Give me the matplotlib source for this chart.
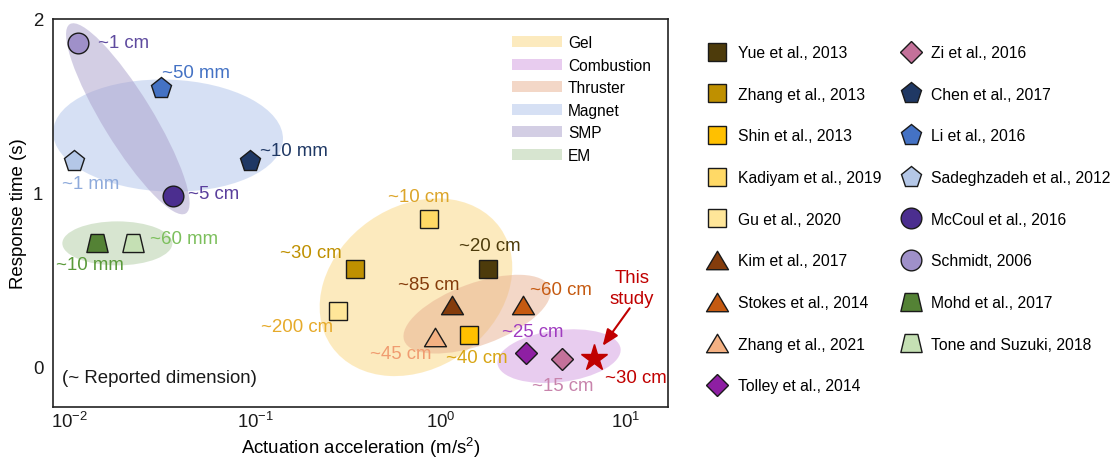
import numpy as np
import matplotlib
matplotlib.use("Agg")
import matplotlib.pyplot as plt
from matplotlib.patches import Ellipse, Patch
from matplotlib.lines import Line2D
from matplotlib.path import Path
from matplotlib.transforms import Affine2D, ScaledTranslation
from matplotlib.ticker import NullLocator, FixedLocator

plt.rcParams['font.family'] = ['Liberation Sans', 'DejaVu Sans']
plt.rcParams['mathtext.fontset'] = 'custom'
plt.rcParams['mathtext.rm'] = 'Liberation Sans'
plt.rcParams['mathtext.it'] = 'Liberation Sans:italic'
plt.rcParams['mathtext.default'] = 'regular'

# ---- data -------------------------------------------------------------
studies = ["Yue et al., 2013", "Zhang et al., 2013", "Shin et al., 2013",
           "Kadiyam et al., 2019", "Gu et al., 2020", "Kim et al., 2017",
           "Stokes et al., 2014", "Zhang et al., 2021", "Tolley et al., 2014",
           "Zi et al., 2016", "Chen et al., 2017", "Li et al., 2016",
           "Sadeghzadeh et al., 2012", "McCoul et al., 2016", "Schmidt, 2006",
           "Mohd et al., 2017", "Tone and Suzuki, 2018"]
accel = [1.8, 0.345, 1.42, 0.87, 0.28, 1.15, 2.8, 0.93, 2.9,
         4.5, 0.093, 0.031, 0.0105, 0.036, 0.011, 0.014, 0.022]      # m/s^2
resp_time = [0.56, 0.56, 0.18, 0.85, 0.32, 0.35, 0.35, 0.17, 0.075,
             0.04, 1.18, 1.60, 1.18, 0.98, 1.86, 0.71, 0.71]         # s
dimension = ["~20 cm", "~30 cm", "~40 cm", "~10 cm", "~200 cm", "~85 cm",
             "~60 cm", "~45 cm", "~25 cm", "~15 cm", "~10 mm", "~50 mm",
             "~1 mm", "~5 cm", "~1 cm", "~10 mm", "~60 mm"]

this_accel = 6.7
this_time = 0.045
this_dim = "~30 cm"

categories = ["Gel", "Combustion", "Thruster", "Magnet", "SMP", "EM"]

# ---- styles -----------------------------------------------------------
def closed(verts):
    verts = list(verts) + [verts[0]]
    return Path(verts, closed=True)

TRI = closed([(-1, -0.84), (1, -0.84), (0, 0.84)])
TRAP = closed([(-1, -0.85), (1, -0.85), (0.6, 0.85), (-0.6, 0.85)])

shape = {"s": ("s", 13), "t": (TRI, 15.8), "d": ("D", 11.7),
         "p": ("p", 15.7), "o": ("o", 14.9), "z": (TRAP, 15.3)}

# marker kind, face colour, label colour, label offset (px)
style = {
    "Yue et al., 2013":        ("s", "#4d3b0b", "#4d3b0b", (-29, 23)),
    "Zhang et al., 2013":      ("s", "#bf9000", "#bf9000", (-75, 16)),
    "Shin et al., 2013":       ("s", "#ffc000", "#d8a514", (-23, -23)),
    "Kadiyam et al., 2019":    ("s", "#ffd966", "#dca52a", (-41, 22)),
    "Gu et al., 2020":         ("s", "#ffe699", "#e6aa2a", (-77, -16)),
    "Kim et al., 2017":        ("t", "#843c0c", "#843c0c", (-54, 21)),
    "Stokes et al., 2014":     ("t", "#c55a11", "#c55a11", (7, 16)),
    "Zhang et al., 2021":      ("t", "#f4b183", "#f09c70", (-65, -17)),
    "Tolley et al., 2014":     ("d", "#8e1fa3", "#a03cc0", (-24, 22)),
    "Zi et al., 2016":         ("d", "#c4719a", "#c884ac", (-30, -26)),
    "Chen et al., 2017":       ("p", "#1f3864", "#1f3864", (10, 11)),
    "Li et al., 2016":         ("p", "#4472c4", "#4472c4", (1, 16)),
    "Sadeghzadeh et al., 2012": ("p", "#b4c7e7", "#8eaadb", (-12, -22)),
    "McCoul et al., 2016":     ("o", "#4b2e8f", "#5a3f9c", (15, 2)),
    "Schmidt, 2006":           ("o", "#9f90c9", "#5f4b9f", (20, 1)),
    "Mohd et al., 2017":       ("z", "#548235", "#5a9a3a", (-41, -22)),
    "Tone and Suzuki, 2018":   ("z", "#c5e0b4", "#7cbf5c", (17, 4)),
}

cat_colors = {"Gel": "#fbd67f", "Combustion": "#d39be0", "Thruster": "#e8b090",
              "Magnet": "#afc3ea", "SMP": "#a99fcb", "EM": "#b0cca3"}
cat_alpha = 0.5

# region outlines: centre (data), width/height (px), angle (deg)
regions = [
    ("Magnet", 0.0338, 1.328, 230, 112, -2),
    ("SMP", 0.0205, 1.425, 222, 50, -58.5),
    ("EM", 0.018, 0.707, 110, 44, 0),
    ("Gel", 0.736, 0.454, 206, 162, 35),
    ("Thruster", 1.572, 0.299, 155, 62, 20),
    ("Combustion", 4.355, 0.057, 124, 52, 7),
]

FS = 13.4
PX = 72 / 100  # pixels -> points at 100 dpi

fig = plt.figure(figsize=(11.17, 4.6), dpi=100)
ax = fig.add_axes([53 / 1117, 52 / 460, 615 / 1117, 388 / 460])
ax.set_xscale("log")
ax.set_xlim(10 ** -2.092, 10 ** 1.227)
ax.set_ylim(-0.236, 1.994)

for name, xc, yc, w, h, ang in regions:
    tr = Affine2D() + ScaledTranslation(xc, yc, ax.transData)
    e = Ellipse((0, 0), w, h, angle=ang, transform=tr,
                facecolor=cat_colors[name], alpha=cat_alpha,
                edgecolor="none", zorder=1)
    ax.add_patch(e)

handles = []
for name, xv, yv, dim in zip(studies, accel, resp_time, dimension):
    kind, fc, lc, (dx, dy) = style[name]
    mk, ms = shape[kind]
    ax.plot([xv], [yv], ls="none", marker=mk, ms=ms, mfc=fc, mec="#1a1a1a",
            mew=1.0, zorder=3)
    ax.annotate(dim, (xv, yv), xytext=(dx * PX, dy * PX),
                textcoords="offset points", ha="left", va="center",
                color=lc, fontsize=FS, zorder=4)
    handles.append(Line2D([], [], ls="none", marker=mk, ms=ms, mfc=fc,
                          mec="#1a1a1a", mew=1.0, label=name))

ax.plot([this_accel], [this_time], ls="none", marker="*", ms=20.4,
        mfc="#c00000", mec="#c00000", zorder=3)
ax.annotate(this_dim, (this_accel, this_time), xytext=(11 * PX, -19 * PX),
            textcoords="offset points", ha="left", va="center",
            color="#c00000", fontsize=FS, zorder=4)
ax.annotate("This\nstudy", (this_accel, this_time), xytext=(38 * PX, 70.5 * PX),
            textcoords="offset points", ha="center", va="center",
            color="#c00000", fontsize=FS, linespacing=1.34, zorder=4)
ax.annotate("", (this_accel, this_time), xytext=(36 * PX, 50 * PX),
            textcoords="offset points",
            arrowprops=dict(arrowstyle="-|>,head_length=0.55,head_width=0.22",
                            color="#c00000", lw=1.5, shrinkA=0, shrinkB=11,
                            mutation_scale=18), zorder=4)

ax.text(0.015, 0.075, "(~ Reported dimension)", transform=ax.transAxes,
        fontsize=FS, ha="left", va="center", color="#1a1a1a")

ax.xaxis.set_major_locator(FixedLocator([1e-2, 1e-1, 1e0, 1e1]))
ax.xaxis.set_minor_locator(NullLocator())
ax.set_xticklabels(["$10^{-2}$", "$10^{-1}$", "$10^{0}$", "$10^{1}$"])
ax.set_yticks([0, 1, 2])
ax.tick_params(length=0, labelsize=FS, colors="#1a1a1a")
ax.tick_params(axis="x", pad=3)
ax.tick_params(axis="y", pad=7)
ax.set_xlabel("Actuation acceleration (m/s$^2$)", fontsize=FS)
ax.set_ylabel("Response time (s)", fontsize=FS)
ax.xaxis.label.set_verticalalignment("baseline")
ax.xaxis.set_label_coords(0.5, -0.119)
ax.yaxis.set_label_coords(-0.042, 0.5)
for sp in ax.spines.values():
    sp.set_linewidth(1.2)
    sp.set_color("#222222")

cat_handles = [Patch(facecolor=cat_colors[c], alpha=cat_alpha,
                     edgecolor="none", label=c) for c in categories]
ax.legend(handles=cat_handles, loc="upper left", bbox_to_anchor=(0.746, 0.958),
          frameon=False, handlelength=3.2, handleheight=0.7,
          handletextpad=0.4, labelspacing=0.48, borderpad=0,
          borderaxespad=0, fontsize=11.2)

fig.legend(handles=handles, ncol=2, loc="upper left",
           bbox_to_anchor=(708 / 1117, 1 - 46 / 460), frameon=False,
           handlelength=1.2, handletextpad=0.68, labelspacing=1.7,
           columnspacing=1.3, borderpad=0, borderaxespad=0, fontsize=11.3)

fig.savefig("out.png", dpi=100)
